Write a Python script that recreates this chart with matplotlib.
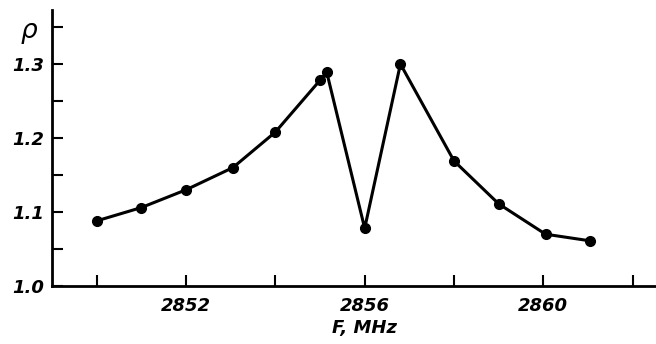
import matplotlib.pyplot as plt

# frequency (MHz) and standing-wave ratio
freq = [2850.0, 2851.0, 2852.0, 2853.05, 2854.0, 2855.0, 2855.15,
        2856.0, 2856.8, 2858.0, 2859.0, 2860.05, 2861.05]
rho = [1.088, 1.106, 1.130, 1.160, 1.208, 1.278, 1.289,
       1.078, 1.300, 1.169, 1.111, 1.070, 1.061]

ytick_vals = [1.0, 1.1, 1.2, 1.3]
xtick_vals = [2852, 2856, 2860]

fig = plt.figure(figsize=(6.56, 3.44), dpi=100)
ax = fig.add_axes([0.0793, 0.1686, 0.9192, 0.8024])

ax.plot(freq, rho, color='black', linewidth=2.2, marker='o', markersize=7)

ax.set_xlim(2849.0, 2862.5)
ax.set_ylim(1.0, 1.373)

ax.spines['top'].set_visible(False)
ax.spines['right'].set_visible(False)
ax.spines['left'].set_linewidth(2)
ax.spines['bottom'].set_linewidth(2)

font = dict(style='italic', weight='bold', size=13)

ax.set_yticks(ytick_vals)
ax.set_yticklabels(['%.1f' % v for v in ytick_vals], **font)
ax.set_yticks([1.05, 1.15, 1.25, 1.35], minor=True)
ax.set_xticks(xtick_vals)
ax.set_xticklabels([str(v) for v in xtick_vals], **font)
ax.set_xticks([2850, 2854, 2858, 2862], minor=True)

ax.tick_params(which='both', direction='in', length=8, width=1.5, color='black')
ax.tick_params(axis='y', which='major', pad=6)
ax.tick_params(axis='x', which='major', pad=8)

ax.set_xlabel('F, MHz', **font)
ax.xaxis.set_label_coords(0.5185, -0.118)
fig.text(0.045, 0.905, r'$\rho$', fontsize=19, ha='center', va='center')

fig.savefig('out.png', dpi=100)
